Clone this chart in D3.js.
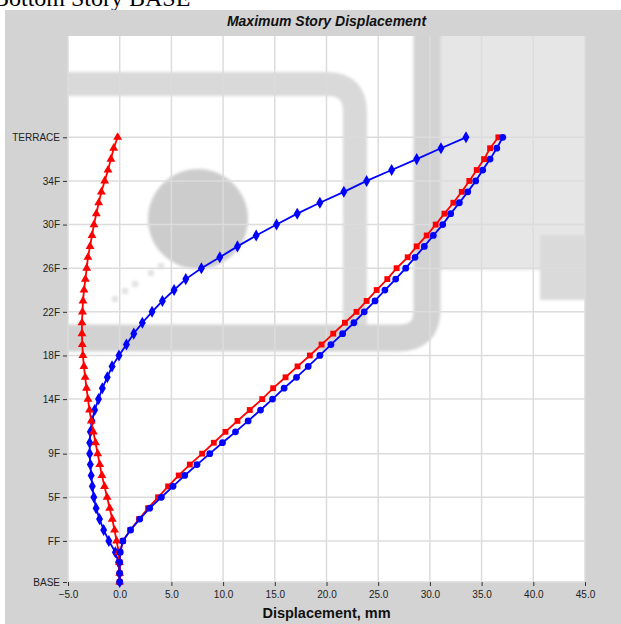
<!DOCTYPE html>
<html>
<head>
<meta charset="utf-8">
<script src="https://cdn.jsdelivr.net/npm/d3@7"></script>
<style>
  body { margin: 0; background: #fff; }
  svg { display: block; }
</style>
</head>
<body>
<div id="chart"></div>
<script>
// story names and elevations (m)
const stories = ['BASE', 'B2', 'B1', 'GF', 'FF', '2F', '3F', '4F', '5F', '6F', '7F', '8F', '9F',
  '10F', '11F', '12F', '13F', '14F', '15F', '16F', '17F', '18F', '19F', '20F', '21F', '22F',
  '23F', '24F', '25F', '26F', '27F', '28F', '29F', '30F', '31F', '32F', '33F', '34F', '35F',
  '36F', '37F', 'TERRACE'];
const elevations = [0, 2.4, 5.4, 8.2, 11.3, 14.3, 17.3, 20.3, 23.3, 26.3, 29.3, 32.3, 35.3,
  38.3, 41.3, 44.3, 47.3, 50.3, 53.3, 56.3, 59.3, 62.3, 65.3, 68.3, 71.3, 74.3,
  77.3, 80.3, 83.3, 86.3, 89.3, 92.3, 95.3, 98.3, 101.3, 104.3, 107.3, 110.3, 113.3,
  116.3, 119.3, 122.3];

const tickStories = ['BASE', 'FF', '5F', '9F', '14F', '18F', '22F', '26F', '30F', '34F', 'TERRACE'];
const xTicks = [-5, 0, 5, 10, 15, 20, 25, 30, 35, 40, 45];

// displacement, mm (BASE -> TERRACE)
const redTriangle = [0, 0, -0.02, -0.1, -0.3, -0.5, -0.72, -0.97, -1.22, -1.47, -1.72, -1.93, -2.13,
  -2.34, -2.55, -2.75, -2.92, -3.07, -3.21, -3.34, -3.46, -3.56, -3.62, -3.65, -3.65, -3.6,
  -3.55, -3.45, -3.32, -3.19, -3.07, -2.87, -2.68, -2.49, -2.26, -2.03, -1.77, -1.45, -1.13,
  -0.85, -0.58, -0.2];
const blueDiamond = [0, -0.03, -0.12, -0.42, -1.05, -1.55, -1.95, -2.28, -2.5, -2.65, -2.76, -2.84, -2.9,
  -2.9, -2.84, -2.68, -2.42, -2.05, -1.68, -1.2, -0.74, -0.07, 0.65, 1.36, 2.19, 3.13,
  4.13, 5.26, 6.39, 7.9, 9.68, 11.39, 13.2, 15.17, 17.17, 19.36, 21.68, 23.88, 26.3,
  28.72, 31.07, 33.49];
const redSquare = [0, 0, 0, 0.05, 0.32, 1.03, 1.87, 2.74, 3.71, 4.68, 5.71, 6.78, 7.97,
  9.1, 10.23, 11.39, 12.58, 13.78, 14.84, 16.04, 17.2, 18.39, 19.52, 20.65, 21.78, 22.9,
  23.88, 24.85, 25.88, 26.78, 27.85, 28.72, 29.69, 30.56, 31.4, 32.27, 33.08, 33.81, 34.53,
  35.24, 35.82, 36.62];
const blueCircle = [0, 0, 0, 0.05, 0.3, 1.05, 1.94, 2.9, 4.03, 5.16, 6.29, 7.48, 8.71,
  9.94, 11.2, 12.42, 13.62, 14.78, 15.9, 17.1, 18.23, 19.36, 20.43, 21.56, 22.65, 23.65,
  24.69, 25.65, 26.69, 27.66, 28.56, 29.46, 30.33, 31.24, 32.01, 32.85, 33.66, 34.43, 35.11,
  35.82, 36.47, 37.05];

const width = 621;
const height = 624;
const plot = { left: 68, right: 585, top: 36, bottom: 582 };

const svg = d3.select('#chart')
  .append('svg')
  .attr('width', width)
  .attr('height', height);

// caption cut off above the chart panel
svg.append('text')
  .attr('x', -7)
  .attr('y', 6)
  .text('Bottom Story BASE')
  .style('font-family', '"Liberation Serif", "Times New Roman", serif')
  .style('font-size', '24px')
  .style('fill', '#000');

svg.append('rect')
  .attr('x', 5)
  .attr('y', 10)
  .attr('width', width - 5)
  .attr('height', height - 10)
  .style('fill', '#d3d3d3');

const xScale = d3.scaleLinear()
  .domain([-5, 45])
  .range([plot.left, plot.right]);

const elevMax = elevations[elevations.length - 1];
const yTopPx = 137.3;
const yScale = d3.scaleLinear()
  .domain([0, elevMax])
  .range([plot.bottom, yTopPx]);
yScale.domain([0, yScale.invert(plot.top)]).range([plot.bottom, plot.top]);

svg.append('rect')
  .attr('x', plot.left)
  .attr('y', plot.top)
  .attr('width', plot.right - plot.left)
  .attr('height', plot.bottom - plot.top)
  .style('fill', '#fff');

svg.append('clipPath')
  .attr('id', 'plot-clip')
  .append('rect')
  .attr('x', plot.left)
  .attr('y', plot.top)
  .attr('width', plot.right - plot.left)
  .attr('height', plot.bottom - plot.top);

// faint logo watermark behind the plot
const defs = svg.append('defs');
defs.append('filter')
  .attr('id', 'soft')
  .append('feGaussianBlur')
  .attr('stdDeviation', 1.5);

const mark = svg.append('g')
  .attr('clip-path', 'url(#plot-clip)')
  .append('g')
  .attr('filter', 'url(#soft)');

mark.append('rect')
  .attr('x', 440).attr('y', 30).attr('width', 150).attr('height', 240)
  .style('fill', '#e6e6e6');
mark.append('rect')
  .attr('x', 540).attr('y', 235).attr('width', 50).attr('height', 65)
  .style('fill', '#dadada');
mark.append('path')
  .attr('d', 'M 40 84 H 327 Q 355 84 355 112 V 338')
  .style('fill', 'none')
  .style('stroke', '#d9d9d9')
  .style('stroke-width', 24);
mark.append('path')
  .attr('d', 'M 40 338 H 399 Q 427 338 427 310 V 20')
  .style('fill', 'none')
  .style('stroke', '#d2d2d2')
  .style('stroke-width', 27);
mark.append('circle')
  .attr('cx', 198).attr('cy', 219).attr('r', 50)
  .style('fill', '#cccccc');
mark.selectAll('.dot')
  .data([[112, 296], [122, 288], [132, 281], [148, 270], [158, 263]])
  .enter()
  .append('rect')
  .attr('x', d => d[0]).attr('y', d => d[1]).attr('width', 6).attr('height', 6)
  .style('fill', '#e2e2e2');

// grid
const grid = svg.append('g');
grid.selectAll('.vgrid')
  .data(xTicks)
  .enter()
  .append('line')
  .attr('x1', d => xScale(d)).attr('x2', d => xScale(d))
  .attr('y1', plot.top).attr('y2', plot.bottom)
  .style('stroke', '#dcdcdc')
  .style('stroke-width', 1.5);
grid.selectAll('.hgrid')
  .data(tickStories)
  .enter()
  .append('line')
  .attr('x1', plot.left).attr('x2', plot.right)
  .attr('y1', d => yScale(elevations[stories.indexOf(d)]))
  .attr('y2', d => yScale(elevations[stories.indexOf(d)]))
  .style('stroke', '#dcdcdc')
  .style('stroke-width', 1.5);

// axes
const xAxis = svg.append('g')
  .attr('transform', `translate(0, ${plot.bottom})`)
  .call(d3.axisBottom(xScale).tickValues(xTicks).tickFormat(d3.format('.1f')).tickSize(4).tickPadding(5));

const yAxis = svg.append('g')
  .attr('transform', `translate(${plot.left - 1}, 0)`)
  .call(d3.axisLeft(yScale)
    .tickValues(tickStories.map(s => elevations[stories.indexOf(s)]))
    .tickFormat(v => stories[elevations.indexOf(v)])
    .tickSize(4).tickPadding(3));

[xAxis, yAxis].forEach(ax => {
  ax.select('.domain').remove();
  ax.selectAll('line').style('stroke', '#333').style('stroke-width', 1);
  ax.selectAll('text')
    .style('font-family', '"Liberation Sans", Arial, sans-serif')
    .style('font-size', '10px')
    .style('fill', '#222');
});

// series
const series = [
  { values: blueDiamond, color: '#0000ff', symbol: d3.symbolDiamond, size: 42 },
  { values: redTriangle, color: '#ff0000', symbol: d3.symbolTriangle, size: 34 },
  { values: redSquare, color: '#ff0000', symbol: d3.symbolSquare, size: 34 },
  { values: blueCircle, color: '#0000ff', symbol: d3.symbolCircle, size: 36 }
];

const line = d3.line()
  .x(d => xScale(d.x))
  .y(d => yScale(d.y));

series.forEach(s => {
  const pts = s.values.map((v, i) => ({ x: v, y: elevations[i] }));
  const g = svg.append('g');
  g.append('path')
    .datum(pts)
    .attr('d', line)
    .style('fill', 'none')
    .style('stroke', s.color)
    .style('stroke-width', 1.8);
  g.selectAll('path.mk')
    .data(pts)
    .enter()
    .append('path')
    .attr('class', 'mk')
    .attr('transform', d => `translate(${xScale(d.x)},${yScale(d.y)})`)
    .attr('d', d3.symbol().type(s.symbol).size(s.size))
    .style('fill', s.color);
});

// titles
svg.append('text')
  .attr('text-anchor', 'middle')
  .attr('x', (plot.left + plot.right) / 2)
  .attr('y', 26)
  .text('Maximum Story Displacement')
  .style('font-family', '"Liberation Sans", Arial, sans-serif')
  .style('font-size', '14px')
  .style('font-weight', 'bold')
  .style('font-style', 'italic')
  .style('fill', '#111');

svg.append('text')
  .attr('text-anchor', 'middle')
  .attr('x', (plot.left + plot.right) / 2)
  .attr('y', 618)
  .text('Displacement, mm')
  .style('font-family', '"Liberation Sans", Arial, sans-serif')
  .style('font-size', '14.5px')
  .style('font-weight', 'bold')
  .style('fill', '#111');
</script>
</body>
</html>
